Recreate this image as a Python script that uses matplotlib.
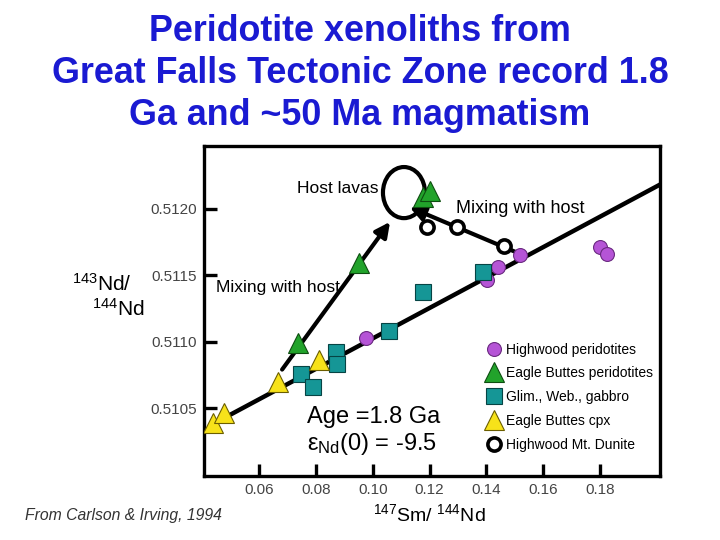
import matplotlib
matplotlib.use('Agg')
import matplotlib.pyplot as plt
from matplotlib.patches import Ellipse

plt.rcParams['font.family'] = ['Liberation Sans', 'DejaVu Sans']

# Eagle Buttes cpx
ebc_x = [0.0438, 0.0477, 0.0667, 0.0811]
ebc_y = [0.51039, 0.51046, 0.51070, 0.51086]
# Eagle Buttes peridotites
ebp_x = [0.0737, 0.0952, 0.1177, 0.1202]
ebp_y = [0.51099, 0.51159, 0.51209, 0.51213]
# Glim., Web., gabbro
glim_x = [0.0748, 0.0790, 0.0871, 0.0875, 0.1057, 0.1177, 0.1388]
glim_y = [0.51076, 0.51066, 0.51092, 0.51083, 0.51108, 0.51137, 0.51152]
# Highwood peridotites
hwp_x = [0.0977, 0.1402, 0.1441, 0.1518, 0.1800, 0.1825]
hwp_y = [0.51103, 0.51146, 0.51156, 0.51165, 0.51171, 0.51166]
# Highwood Mt. Dunite
dun_x = [0.1191, 0.1297, 0.1462]
dun_y = [0.51186, 0.51186, 0.51172]
# host lavas field (centre, width, height)
host_x, host_y = 0.1110, 0.51212
host_w, host_h = 0.0148, 0.000384

# 1.8 Ga reference isochron
iso_x = [0.0463, 0.2011]
iso_y = [0.51041, 0.51218]
# mixing arrows (tail, head)
mix1 = [(0.0681, 0.51079), (0.1061, 0.51190)]
mix2 = [(0.1518, 0.51166), (0.1130, 0.51201)]

fig = plt.figure(figsize=(7.2, 5.4), dpi=100)
ax = fig.add_axes([0.2833, 0.1185, 0.6333, 0.6111])

ax.plot(iso_x, iso_y, color='black', lw=3.2, zorder=2)
for tail, head in [mix1, mix2]:
    ax.annotate('', xy=head, xytext=tail,
                arrowprops=dict(arrowstyle='-|>', color='black', lw=3,
                                mutation_scale=22, shrinkA=0, shrinkB=0),
                zorder=2)

ax.add_patch(Ellipse((host_x, host_y), host_w, host_h, fill=False,
                     edgecolor='black', lw=3, zorder=3))

h_hw, = ax.plot(hwp_x, hwp_y, 'o', ms=10, mfc='#b554d6', mec='#6a2a80', mew=0.8,
                ls='none', zorder=4, label='Highwood peridotites')
h_ebp, = ax.plot(ebp_x, ebp_y, '^', ms=15, mfc='#22a32b', mec='#0d4d10', mew=0.8,
                 ls='none', zorder=4, label='Eagle Buttes peridotites')
h_gl, = ax.plot(glim_x, glim_y, 's', ms=11, mfc='#159696', mec='#064444', mew=0.8,
                ls='none', zorder=4, label='Glim., Web., gabbro')
h_ebc, = ax.plot(ebc_x, ebc_y, '^', ms=15, mfc='#f7e21a', mec='#6b5e00', mew=0.8,
                 ls='none', zorder=4, label='Eagle Buttes cpx')
h_dun, = ax.plot(dun_x, dun_y, 'o', ms=9.5, mfc='white', mec='black', mew=2.6,
                 ls='none', zorder=4, label='Highwood Mt. Dunite')

ax.set_xlim(0.0406, 0.2011)
ax.set_ylim(0.50999, 0.51247)
ax.set_xticks([0.06, 0.08, 0.10, 0.12, 0.14, 0.16, 0.18])
ax.set_xticklabels(['0.06', '0.08', '0.10', '0.12', '0.14', '0.16', '0.18'])
ax.set_yticks([0.5105, 0.5110, 0.5115, 0.5120])
ax.set_yticklabels(['0.5105', '0.5110', '0.5115', '0.5120'])
ax.tick_params(direction='in', length=9, width=2.4, labelsize=11,
               labelcolor='#444444')
ax.tick_params(axis='y', pad=5)
ax.tick_params(axis='x', pad=5)
for s in ax.spines.values():
    s.set_linewidth(2.4)

ax.text(0.1019, 0.51215, 'Host lavas', fontsize=12.5, ha='right', va='center')
ax.text(0.1747, 0.51200, 'Mixing with host', fontsize=13, ha='right', va='center')
ax.text(0.0449, 0.51141, 'Mixing with host', fontsize=12.5, ha='left', va='center')
ax.text(0.0770, 0.51043, 'Age =1.8 Ga', fontsize=17, ha='left', va='center')
ax.text(0.0770, 0.51023, r'$\mathregular{\varepsilon_{Nd}}$(0) = -9.5',
        fontsize=17, ha='left', va='center')

ax.legend(handles=[h_hw, h_ebp, h_gl, h_ebc, h_dun], loc='upper left',
          bbox_to_anchor=(0.6, 0.421), frameon=False, fontsize=10,
          handletextpad=0.12, labelspacing=0.7, handlelength=1.5,
          borderaxespad=0)

title_lines = ['Peridotite xenoliths from',
               'Great Falls Tectonic Zone record 1.8',
               'Ga and ~50 Ma magmatism']
for line, yb in zip(title_lines, [0.924, 0.846, 0.768]):
    fig.text(0.5, yb, line, color='#1a1ad2', fontsize=25.8, fontweight='bold',
             ha='center', va='baseline')

fig.text(0.597, 0.048, r'$\mathregular{^{147}}$Sm/ $\mathregular{^{144}}$Nd',
         fontsize=14, ha='center', va='center')
fig.text(0.142, 0.475, r'$\mathregular{^{143}}$Nd/', fontsize=15, ha='center', va='center')
fig.text(0.164, 0.428, r'$\mathregular{^{144}}$Nd', fontsize=15, ha='center', va='center')
fig.text(0.035, 0.045, 'From Carlson & Irving, 1994', fontsize=11.3, style='italic',
         color='#333333', ha='left', va='center')

fig.savefig('out.png', dpi=100)
